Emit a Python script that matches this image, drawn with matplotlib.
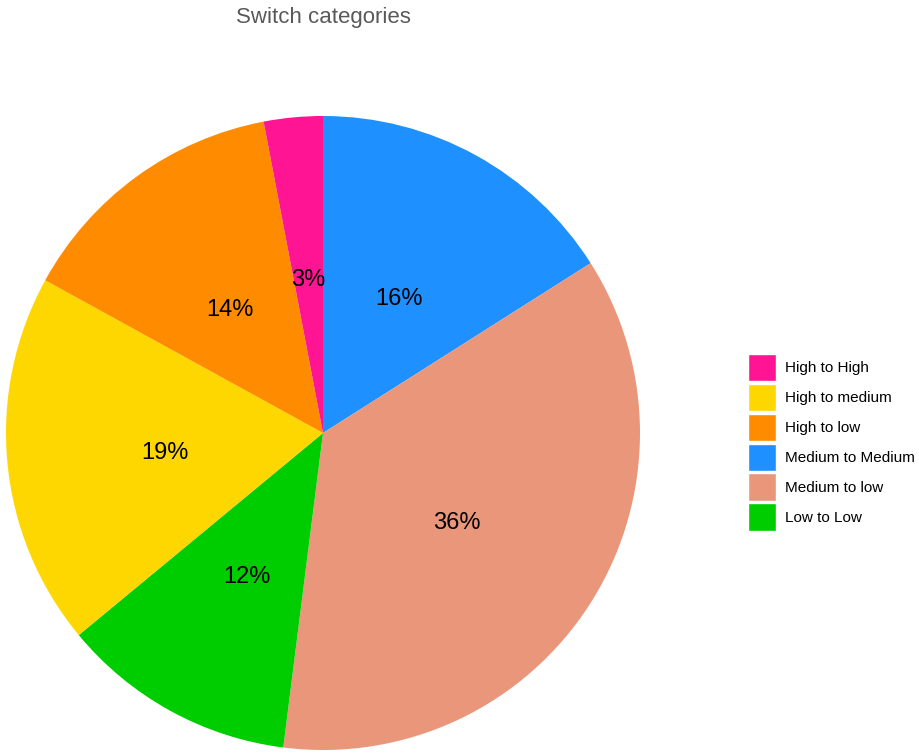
import numpy as np
import matplotlib.pyplot as plt
from matplotlib.patches import Patch

plt.rcParams["font.family"] = ["Liberation Sans", "DejaVu Sans"]

# slices, clockwise from 12 o'clock
categories = ["Medium to Medium", "Medium to low", "Low to Low",
              "High to medium", "High to low", "High to High"]
shares = [16, 36, 12, 19, 14, 3]
colors = ["#1E90FF", "#E9967A", "#00CD00", "#FFD700", "#FF8C00", "#FF1493"]

legend_order = ["High to High", "High to medium", "High to low",
                "Medium to Medium", "Medium to low", "Low to Low"]

W, H = 919, 753
fig = plt.figure(figsize=(W / 100, H / 100), dpi=100)
fig.patch.set_facecolor("white")

# pie centre (323, 433) px, radius 317 px
cx, cy, r = 323, 433, 317
ax = fig.add_axes([(cx - r) / W, (H - cy - r) / H, 2 * r / W, 2 * r / H])
wedges, _ = ax.pie(shares, colors=colors, startangle=90, counterclock=False,
                   radius=1.0, wedgeprops=dict(linewidth=0))
ax.set_xlim(-1, 1)
ax.set_ylim(-1, 1)
ax.set_aspect("equal")
ax.axis("off")

for s, w in zip(shares, wedges):
    mid = np.deg2rad((w.theta1 + w.theta2) / 2)
    ax.text(0.5 * np.cos(mid), 0.5 * np.sin(mid) - 0.015, f"{s}%",
            ha="center", va="center", fontsize=17, color="black")

fig.text(cx / W, 1 - 17 / H, "Switch categories", ha="center", va="center",
         fontsize=16, color="#595959")

handles = [Patch(facecolor=colors[categories.index(c)], edgecolor="white",
                 linewidth=1) for c in legend_order]
fig.legend(handles, legend_order, loc="upper left",
           bbox_to_anchor=(745 / W, 1 - 351 / H), frameon=False,
           fontsize=11, handlelength=1.8, handleheight=2.38,
           handletextpad=0.65, labelspacing=0.16, borderpad=0.2,
           borderaxespad=0)

fig.savefig("out.png", dpi=100, facecolor="white")
